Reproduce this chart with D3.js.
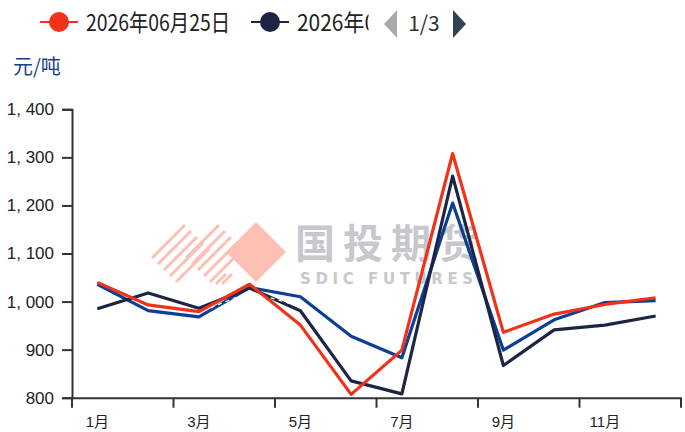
<!DOCTYPE html>
<html><head><meta charset="utf-8">
<script src="https://cdn.jsdelivr.net/npm/d3@7/dist/d3.min.js"></script>
<style>body{margin:0;background:#fff}svg{display:block}</style>
</head><body><svg id="c" width="685" height="432"></svg>
<script>
const months = ["1月","2月","3月","4月","5月","6月","7月","8月","9月","10月","11月","12月"];
const seriesNames = ["2026年06月25日","2026年0"];
const redValues  = [1040, 993, 979, 1036, 951, 807, 899, 1308, 936, 974, 994, 1008];
const navyValues = [985, 1018, 986, 1028, 981, 835, 808, 1261, 867, 941, 951, 970];
const blueValues = [1036, 981, 968, 1029, 1010, 928, 883, 1205, 899, 962, 998, 1002];
const whiteValues = [1040, 990, 977, 1020, 990, null, null, null, null, null, null, null];
const yTicks = [800, 900, 1000, 1100, 1200, 1300, 1400];
const yTickLabels = ["800","900","1, 000","1, 100","1, 200","1, 300","1, 400"];
const xLabelMonths = ["1月","3月","5月","7月","9月","11月"];
const unitLabel = "元/吨";

const svg = d3.select("#c");
const x = d3.scaleBand().domain(months).range([72, 681]);
const y = d3.scaleLinear().domain([800, 1400]).range([397.7, 109.3]);
const font = "'Liberation Sans', Arial, 'Noto Sans CJK SC', sans-serif";
const cjk = "'Noto Sans CJK SC', sans-serif";

// watermark
const wm = svg.append("g");
const pink = "#fcc1b4";
wm.append("path").attr("d", "M256,222 L286,252 L256,282 L226,252 Z").attr("fill", pink);
const stripes = [[152,258,185,225],[158,264,191,231],[164,270,197,237],[170,276,203,243],[176,282,209,249],
                 [186,258,219,225],[192,264,225,231],[198,270,231,237],[204,276,237,243],[210,282,243,249],
                 [216,284,226,274],[222,284,232,274]];
stripes.forEach(s => wm.append("line").attr("x1", s[0]).attr("y1", s[1]).attr("x2", s[2]).attr("y2", s[3])
  .attr("stroke", pink).attr("stroke-width", 3));
wm.append("text").attr("x", 295).attr("y", 258).attr("font-size", 40).attr("font-weight", "bold")
  .attr("fill", "#c6c8cd").attr("font-family", cjk).attr("letter-spacing", 8).text("国投期货");
wm.append("text").attr("x", 300).attr("y", 284).attr("font-size", 15).attr("font-weight", "bold")
  .attr("fill", "#c6c8cd").attr("font-family", "'DejaVu Sans', sans-serif").attr("letter-spacing", 4.6).text("SDIC FUTURES");

// axes
const yAxis = svg.append("g").attr("transform", "translate(72,0)")
  .call(d3.axisLeft(y).tickValues(yTicks).tickFormat((d, i) => yTickLabels[i]).tickSize(10).tickPadding(8));
yAxis.select(".domain").attr("stroke", "#333").attr("stroke-width", 2);
yAxis.selectAll(".tick line").attr("stroke", "#333").attr("stroke-width", 2);
yAxis.selectAll(".tick text").attr("font-size", 17).attr("fill", "#222").attr("font-family", font);

const xAxis = svg.append("g").attr("transform", "translate(0,397.7)")
  .call(d3.axisBottom(x).tickValues(xLabelMonths).tickSize(0).tickPadding(19));
xAxis.select(".domain").attr("stroke", "#333").attr("stroke-width", 2);
xAxis.selectAll(".tick text").attr("font-size", 15).attr("fill", "#222").attr("font-family", font);
const bounds = months.filter((m, i) => i % 2 === 0).map(m => x(m)).concat([x.range()[1]]);
svg.append("g").selectAll("line").data(bounds).join("line")
  .attr("x1", d => d).attr("x2", d => d).attr("y1", 397.7).attr("y2", 407.7)
  .attr("stroke", "#333").attr("stroke-width", 2);

// unit
svg.append("text").attr("x", 13).attr("y", 74).attr("font-size", 20).attr("fill", "#1b3f8f")
  .attr("font-family", cjk).text(unitLabel);

// lines
const line = d3.line().defined(d => d != null).x((d, i) => x(months[i]) + x.bandwidth() / 2).y(d => y(d));
function drawLine(vals, color, w, dash) {
  const p = svg.append("path").attr("d", line(vals)).attr("fill", "none").attr("stroke", color)
    .attr("stroke-width", w).attr("stroke-linejoin", "round");
  if (dash) p.attr("stroke-dasharray", dash);
}
drawLine(blueValues, "#0b3f96", 3.2);
drawLine(navyValues, "#1e2444", 3.2);
drawLine(whiteValues, "#ffffff", 1.2, "4,4");
drawLine(redValues, "#f2311a", 3.2);

// legend
const lg = svg.append("g");
lg.append("line").attr("x1", 40).attr("x2", 78).attr("y1", 22).attr("y2", 22).attr("stroke", "#f2311a").attr("stroke-width", 2);
lg.append("circle").attr("cx", 59).attr("cy", 22).attr("r", 10).attr("fill", "#f2311a");
lg.append("text").attr("x", 86).attr("y", 31).attr("font-size", 23).attr("fill", "#222")
  .attr("textLength", 144).attr("lengthAdjust", "spacingAndGlyphs")
  .attr("font-family", cjk).text(seriesNames[0]);
lg.append("line").attr("x1", 251).attr("x2", 289).attr("y1", 22).attr("y2", 22).attr("stroke", "#1e2444").attr("stroke-width", 2);
lg.append("circle").attr("cx", 270).attr("cy", 22).attr("r", 10).attr("fill", "#1e2444");
svg.append("clipPath").attr("id", "lgclip").append("rect").attr("x", 290).attr("y", 0).attr("width", 78.5).attr("height", 45);
lg.append("text").attr("x", 297).attr("y", 31).attr("font-size", 23).attr("fill", "#222").attr("clip-path", "url(#lgclip)")
  .attr("textLength", 79).attr("lengthAdjust", "spacingAndGlyphs")
  .attr("font-family", cjk).text(seriesNames[1]);
// pager
lg.append("path").attr("d", "M397,10 L384,24 L397,38 Z").attr("fill", "#aaaaaa");
lg.append("text").attr("x", 424).attr("y", 31).attr("text-anchor", "middle").attr("font-size", 21).attr("fill", "#333")
  .attr("font-family", cjk).text("1/3");
lg.append("path").attr("d", "M453,10 L466,24 L453,38 Z").attr("fill", "#2f4554");
</script></body></html>
